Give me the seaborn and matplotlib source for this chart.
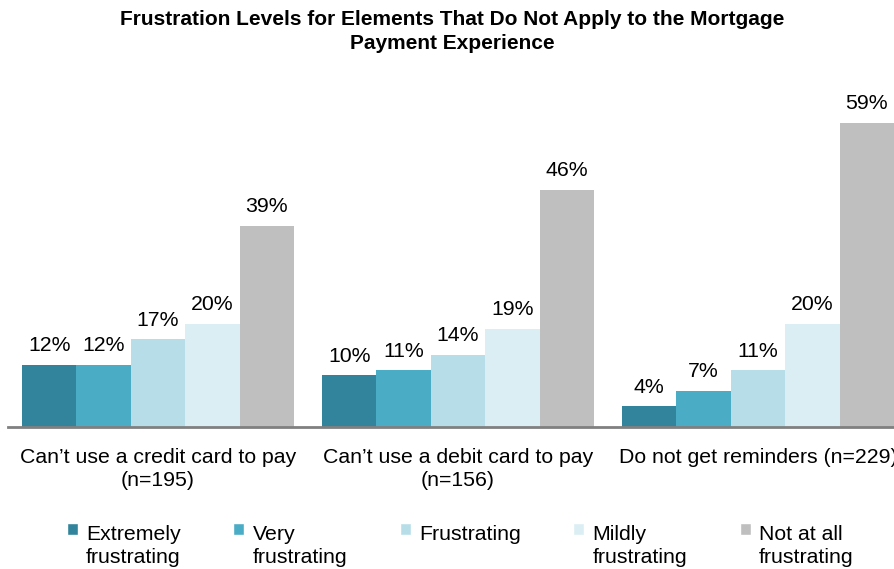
import pandas as pd
import seaborn as sns
import matplotlib.pyplot as plt
from matplotlib.patches import Patch, Rectangle
from matplotlib.legend_handler import HandlerPatch

categories = [
    "Can\u2019t use a credit card to pay\n(n=195)",
    "Can\u2019t use a debit card to pay\n(n=156)",
    "Do not get reminders (n=229)",
]
levels = ["Extremely frustrating", "Very frustrating", "Frustrating",
          "Mildly frustrating", "Not at all frustrating"]
legend_labels = ["Extremely\nfrustrating", "Very\nfrustrating", "Frustrating\n",
                 "Mildly\nfrustrating", "Not at all\nfrustrating"]
extremely = [12, 10, 4]
very = [12, 11, 7]
frustrating = [17, 14, 11]
mildly = [20, 19, 20]
not_at_all = [39, 46, 59]
colors = ["#31849B", "#4BACC6", "#B7DEE8", "#DAEEF3", "#BFBFBF"]

series = [extremely, very, frustrating, mildly, not_at_all]
rows = []
for level, vals in zip(levels, series):
    for cat, v in zip(categories, vals):
        rows.append([cat, level, v])
df = pd.DataFrame(rows, columns=["category", "level", "value"])

sns.set_style("white")
plt.rcParams["font.family"] = ["Liberation Sans", "DejaVu Sans"]
plt.rcParams["text.color"] = "black"
plt.rcParams["xtick.color"] = "black"

fs = 15.3

fig = plt.figure(figsize=(8.95, 5.69), dpi=100)
ax = fig.add_axes([8 / 895, (569 - 427) / 569, 900 / 895, 335 / 569])

sns.barplot(data=df, x="category", y="value", hue="level", hue_order=levels,
            order=categories, palette=colors, saturation=1, width=0.907,
            linewidth=0, ax=ax, legend=False)

for cont in ax.containers:
    ax.bar_label(cont, fmt="%d%%", padding=7, fontsize=fs, color="black")

ax.set_xlim(-0.5, 2.5)
ax.set_ylim(0, 65)
ax.set_xlabel("")
ax.set_ylabel("")
ax.set_yticks([])
ax.tick_params(axis="x", length=0, pad=15, labelsize=fs, labelcolor="black")
for lbl in ax.get_xticklabels():
    lbl.set_linespacing(1.25)
for side in ["top", "left", "right"]:
    ax.spines[side].set_visible(False)
ax.spines["bottom"].set_color("#808080")
ax.spines["bottom"].set_linewidth(2)

fig.suptitle("Frustration Levels for Elements That Do Not Apply to the Mortgage\nPayment Experience",
             fontsize=15, fontweight="bold", y=0.982, x=0.505, linespacing=1.35,
             color="black")


def top_square(legend, orig_handle, xdescent, ydescent, width, height, fontsize):
    return Rectangle((-xdescent, -ydescent + 0.78 * fontsize), width, height)


handles = [Patch(facecolor=c) for c in colors]
leg = fig.legend(handles, legend_labels, ncol=5, loc="upper left",
                 bbox_to_anchor=(67 / 895, 1 - 525 / 569), frameon=False,
                 borderpad=0, borderaxespad=0, handlelength=0.5, handleheight=0.5,
                 handletextpad=0.4, columnspacing=2.48, fontsize=fs,
                 handler_map={Patch: HandlerPatch(patch_func=top_square)})
for t in leg.get_texts():
    t.set_linespacing(1.25)

fig.savefig("out.png", dpi=100)
